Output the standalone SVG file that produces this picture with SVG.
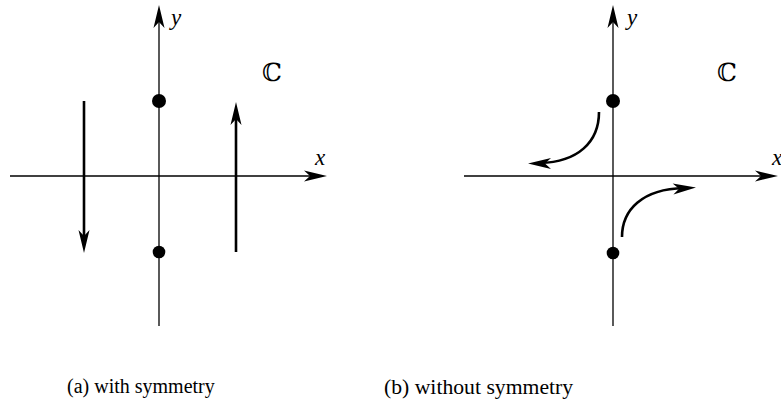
<svg xmlns="http://www.w3.org/2000/svg" width="781" height="410" viewBox="0 0 781 410">
<style>
.axis{stroke:#000;stroke-width:1.3;fill:none}
.thick{stroke:#000;stroke-width:2.6;fill:none}
.head{fill:#000;stroke:none}
.lbl{font-family:"Liberation Serif","Times New Roman",serif;font-style:italic;font-size:23px;fill:#000}
.cc{font-family:"DejaVu Serif","DejaVu Sans",serif;font-size:25px;fill:#000}
.cap{font-family:"Liberation Serif","Times New Roman",serif;font-size:20px;fill:#000}
</style>
<defs>
<path id="ah" d="M0,0 L-23,-5.5 L-17,0 L-23,5.5 Z"/>
</defs>
<g id="panel-a">
<g id="axes-a">
<line class="axis" x1="10" y1="176" x2="320" y2="176"/>
<use href="#ah" class="head" transform="translate(327,176)"/>
<line class="axis" x1="159" y1="326" x2="159" y2="12"/>
<use href="#ah" class="head" transform="translate(159,5) rotate(-90)"/>
</g>
<g id="dot-a1"><circle cx="159" cy="101" r="7" fill="#000"/></g>
<g id="dot-a2"><circle cx="159" cy="252" r="6.3" fill="#000"/></g>
<g id="arrow-a-down">
<line class="thick" x1="84" y1="101" x2="84" y2="240"/>
<use href="#ah" class="head" transform="translate(84,253) rotate(90)"/>
</g>
<g id="arrow-a-up">
<line class="thick" x1="236" y1="252" x2="236" y2="115"/>
<use href="#ah" class="head" transform="translate(236,102) rotate(-90)"/>
</g>
<text class="lbl" x="171" y="25">y</text>
<text class="lbl" x="315" y="165">x</text>
<text class="cc" x="262" y="81">ℂ</text>
<text class="cap" x="67" y="393">(a) with symmetry</text>
</g>
<g id="panel-b">
<g id="axes-b">
<line class="axis" x1="464" y1="176" x2="771" y2="176"/>
<use href="#ah" class="head" transform="translate(778,176)"/>
<line class="axis" x1="613" y1="326" x2="613" y2="12"/>
<use href="#ah" class="head" transform="translate(613,5) rotate(-90)"/>
</g>
<g id="dot-b1"><circle cx="613" cy="101" r="7" fill="#000"/></g>
<g id="dot-b2"><circle cx="613" cy="253" r="6.3" fill="#000"/></g>
<g id="curve-b1">
<path class="thick" d="M599,112 C599,142 578,162 540,163"/>
<use href="#ah" class="head" transform="translate(528,163.5) rotate(180)"/>
</g>
<g id="curve-b2">
<path class="thick" d="M622,237 C622,210 642,189 684,188"/>
<use href="#ah" class="head" transform="translate(696,187.5) rotate(-4)"/>
</g>
<text class="lbl" x="627" y="25">y</text>
<text class="lbl" x="772" y="165">x</text>
<text class="cc" x="717" y="81">ℂ</text>
<text class="cap" x="384" y="394" style="font-size:21.7px">(b) without symmetry</text>
</g>
</svg>
